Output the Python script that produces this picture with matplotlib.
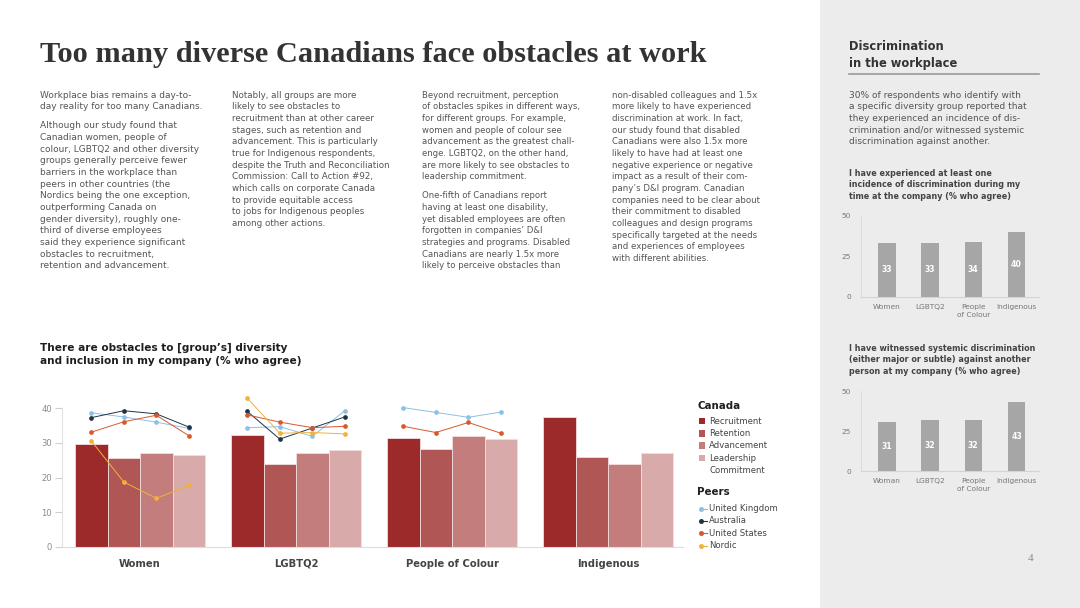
import numpy as np
import matplotlib
matplotlib.use("Agg")
import matplotlib.pyplot as plt
from matplotlib.patches import Rectangle

plt.rcParams['font.family'] = ['DejaVu Sans']

# ---------------------------------------------------------
# Data
# ---------------------------------------------------------
groups = ['Women', 'LGBTQ2', 'People of Colour', 'Indigenous']
stages = ['Recruitment', 'Retention', 'Advancement', 'Leadership\nCommitment']

canada_recruitment = [29.8, 32.3, 31.3, 37.4]
canada_retention = [25.6, 23.9, 28.2, 25.8]
canada_advancement = [27.1, 27.0, 32.1, 23.9]
canada_leadership = [26.6, 28.0, 31.0, 27.0]

# peers: one row per group, values per stage (nan = not reported)
nan = np.nan
uk = [[38.7, 37.5, 36.0, 34.2], [34.4, 34.7, 31.9, 39.3],
      [40.2, 38.8, 37.4, 38.9], [nan, nan, nan, nan]]
australia = [[37.3, 39.3, 38.4, 34.6], [39.1, 31.1, 34.3, 37.5],
             [nan, nan, nan, nan], [nan, nan, nan, nan]]
us = [[33.1, 36.1, 38.0, 32.1], [38.1, 36.0, 34.4, 34.8],
      [34.8, 33.0, 35.9, 32.8], [nan, nan, nan, nan]]
nordic = [[30.6, 18.7, 14.0, 17.7], [42.9, 32.8, 33.0, 32.6],
          [nan, nan, nan, nan], [nan, nan, nan, nan]]

small_labels_1 = ['Women', 'LGBTQ2', 'People\nof Colour', 'Indigenous']
experienced = [33, 33, 34, 40]
small_labels_2 = ['Woman', 'LGBTQ2', 'People\nof Colour', 'Indigenous']
witnessed = [31, 32, 32, 43]

bar_colors = ['#9c2a2a', '#b05654', '#c37d7c', '#d8aaaa']
peer_names = ['United Kingdom', 'Australia', 'United States', 'Nordic']
peer_colors = ['#8ec0e4', '#1d3645', '#d9582c', '#f1b13a']

# ---------------------------------------------------------
# Text
# ---------------------------------------------------------
col1 = [["Workplace bias remains a day-to-", "day reality for too many Canadians."],
        ["Although our study found that", "Canadian women, people of",
         "colour, LGBTQ2 and other diversity", "groups generally perceive fewer",
         "barriers in the workplace than", "peers in other countries (the",
         "Nordics being the one exception,", "outperforming Canada on",
         "gender diversity), roughly one-", "third of diverse employees",
         "said they experience significant", "obstacles to recruitment,",
         "retention and advancement."]]
col2 = [["Notably, all groups are more", "likely to see obstacles to",
         "recruitment than at other career", "stages, such as retention and",
         "advancement. This is particularly", "true for Indigenous respondents,",
         "despite the Truth and Reconciliation", "Commission: Call to Action #92,",
         "which calls on corporate Canada", "to provide equitable access",
         "to jobs for Indigenous peoples", "among other actions."]]
col3 = [["Beyond recruitment, perception", "of obstacles spikes in different ways,",
         "for different groups. For example,", "women and people of colour see",
         "advancement as the greatest chall-", "enge. LGBTQ2, on the other hand,",
         "are more likely to see obstacles to", "leadership commitment."],
        ["One-fifth of Canadians report", "having at least one disability,",
         "yet disabled employees are often", "forgotten in companies\u2019 D&I",
         "strategies and programs. Disabled", "Canadians are nearly 1.5x more",
         "likely to perceive obstacles than"]]
col4 = [["non-disabled colleagues and 1.5x", "more likely to have experienced",
         "discrimination at work. In fact,", "our study found that disabled",
         "Canadians were also 1.5x more", "likely to have had at least one",
         "negative experience or negative", "impact as a result of their com-",
         "pany\u2019s D&I program. Canadian", "companies need to be clear about",
         "their commitment to disabled", "colleagues and design programs",
         "specifically targeted at the needs", "and experiences of employees",
         "with different abilities."]]
side_para = [["30% of respondents who identify with", "a specific diversity group reported that",
              "they experienced an incidence of dis-", "crimination and/or witnessed systemic",
              "discrimination against another."]]

W, H = 1080, 608
fig = plt.figure(figsize=(W / 100, H / 100), dpi=100)


def rect(x0, y_top, x1, y_bot):
    # pixel box -> figure fraction
    return [x0 / W, 1 - y_bot / H, (x1 - x0) / W, (y_bot - y_top) / H]


# background / overlay axes in pixel coordinates
bg = fig.add_axes([0, 0, 1, 1], zorder=0)
bg.set_xlim(0, W)
bg.set_ylim(H, 0)
bg.axis('off')
bg.add_patch(Rectangle((820, 0), 260, H, color='#ececec', lw=0))


def block(x, y0, paras, size=6.25, color='#555555', weight='normal', step=11.67, gap=7.5):
    y = y0
    for p in paras:
        for line in p:
            bg.text(x, y + 2.6, line, fontsize=size, color=color, weight=weight,
                    va='baseline', ha='left')
            y += step
        y += gap


bg.text(40, 62, 'Too many diverse Canadians face obstacles at work', fontsize=21.9,
        family='Liberation Serif', weight='bold', color='#333333', va='baseline')

block(40, 95, col1, size=6.5)
block(231.5, 95, col2, size=6.3)
block(422, 95, col3, size=6.15)
block(612, 95, col4)

bg.text(849, 50.5, 'Discrimination', fontsize=8.3, weight='bold', color='#333333', va='baseline')
bg.text(849, 67, 'in the workplace', fontsize=8.3, weight='bold', color='#333333', va='baseline')
bg.plot([849, 1039], [73.5, 73.5], color='#9a9a9a', lw=1.2)
block(849, 95, side_para, size=6.5)
block(849, 173, [["I have experienced at least one", "incidence of discrimination during my",
                  "time at the company (% who agree)"]], size=5.75, color='#444444', weight='bold')
block(849, 348, [["I have witnessed systemic discrimination", "(either major or subtle) against another",
                  "person at my company (% who agree)"]], size=5.75, color='#444444', weight='bold')

block(40, 348.5, [["There are obstacles to [group\u2019s] diversity",
                   "and inclusion in my company (% who agree)"]], size=7.55, color='#1e1e1e',
      weight='bold', step=13)

bg.text(1031, 561, '4', fontsize=8, family='Liberation Serif', color='#8a8a8a', ha='center')

# legend
bg.text(697.5, 409, 'Canada', fontsize=7.4, weight='bold', color='#1e1e1e', va='baseline')
ly = [421, 433.5, 445.5, 458]
for i, lab in enumerate(stages):
    bg.add_patch(Rectangle((698.5, ly[i] - 3.2), 6.4, 6.4, color=bar_colors[i], lw=0))
    for k, part in enumerate(lab.split('\n')):
        bg.text(709, ly[i] + 2.6 + k * 12, part, fontsize=6.1, color='#444444', va='baseline')
bg.text(697.5, 495, 'Peers', fontsize=7.4, weight='bold', color='#1e1e1e', va='baseline')
py = [508.5, 520.8, 533.2, 545.5]
for i, lab in enumerate(peer_names):
    bg.plot([700.5, 706.5], [py[i], py[i]], color=peer_colors[i], lw=0.8)
    bg.plot([700.5], [py[i]], 'o', color=peer_colors[i], ms=3.6, mew=0)
    bg.text(709, py[i] + 2.6, lab, fontsize=6.1, color='#444444', va='baseline')

# ---------------------------------------------------------
# Main chart
# ---------------------------------------------------------
ax = fig.add_axes(rect(62, 391.0, 683, 546.7), zorder=1)
ax.set_facecolor('none')
x = np.arange(len(groups))
w = 0.2083
series = [canada_recruitment, canada_retention, canada_advancement, canada_leadership]
for j, vals in enumerate(series):
    ax.bar(x + (j - 1.5) * w, vals, w, color=bar_colors[j], edgecolor='#f2dede', lw=0.6,
           zorder=2)
offs = (np.arange(4) - 1.5) * w
for peer, col in zip([uk, australia, us, nordic], peer_colors):
    for g in range(len(groups)):
        ax.plot(x[g] + offs, peer[g], color=col, lw=0.7, marker='o', ms=3.4, mew=0,
                zorder=3)

ax.set_xlim(-0.5, 3.48)
ax.set_ylim(0, 45)
ax.set_yticks([0, 10, 20, 30, 40])
ax.tick_params(axis='y', length=5, width=0.8, color='#d0d0d0', labelsize=6.1,
               labelcolor='#8a8a8a', pad=2)
ax.set_xticks(x)
ax.set_xticklabels(groups, fontsize=7.2, weight='bold', color='#444444')
for lbl in ax.get_xticklabels():
    lbl.set_va('baseline')
ax.tick_params(axis='x', length=0, pad=14.5)
for s in ['top', 'right']:
    ax.spines[s].set_visible(False)
ax.spines['left'].set_color('#e2e2e2')
ax.spines['left'].set_bounds(0, 40)
ax.spines['bottom'].set_color('#dddddd')


# ---------------------------------------------------------
# Side charts
# ---------------------------------------------------------
def side_chart(y_top, y_bot, vals, labels):
    a = fig.add_axes(rect(861, y_top, 1039, y_bot), zorder=1)
    a.set_facecolor('none')
    xs = np.arange(len(vals))
    a.bar(xs, vals, 0.4, color='#a6a6a6', zorder=2)
    for xi, v in zip(xs, vals):
        a.text(xi, v / 2, str(v), ha='center', va='center', color='white',
               fontsize=5.6, weight='bold')
    a.set_xlim(-0.6, 3.52)
    a.set_ylim(0, 50)
    a.set_yticks([0, 25, 50])
    a.tick_params(axis='y', length=0, labelsize=5.4, labelcolor='#777777', pad=7)
    a.set_xticks(xs)
    a.set_xticklabels(labels, fontsize=5.3, color='#777777', linespacing=1.4)
    a.tick_params(axis='x', length=0, pad=5)
    for s in ['top', 'right']:
        a.spines[s].set_visible(False)
    a.spines['left'].set_color('#dcdcdc')
    a.spines['bottom'].set_color('#d4d4d4')
    return a


side_chart(215.7, 296.7, experienced, small_labels_1)
side_chart(391.0, 471.3, witnessed, small_labels_2)

fig.savefig('out.png', dpi=100)
